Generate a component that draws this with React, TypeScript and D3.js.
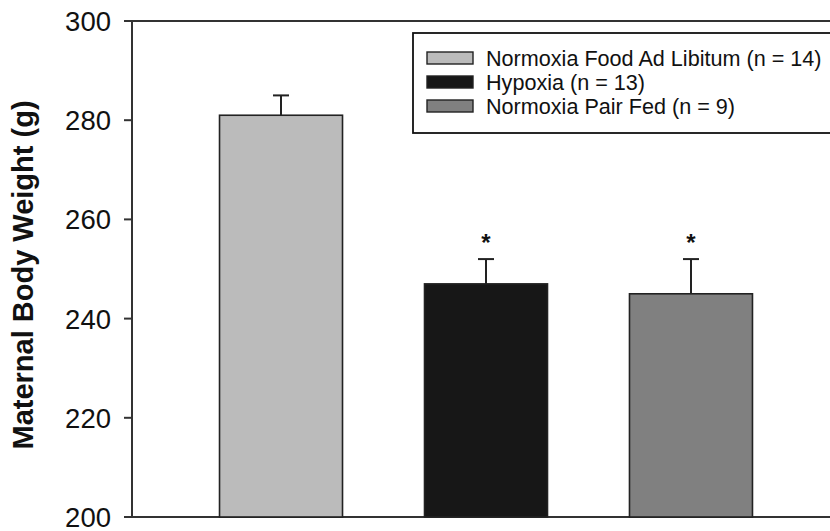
import React from "react";
import * as d3 from "d3";

const categories = ["Normoxia Food Ad Libitum (n = 14)", "Hypoxia (n = 13)", "Normoxia Pair Fed (n = 9)"];
const means = [281, 247, 245];
const errors = [4, 5, 7];
const significant = [false, true, true];
const colors = ["#bbbbbb", "#171717", "#808080"];
const yTicks = [200, 220, 240, 260, 280, 300];
const yTitle = "Maternal Body Weight (g)";

const W = 830;
const H = 531;
const FONT = "'Liberation Sans', Arial, Helvetica, sans-serif";

export default function App() {
  const y = d3.scaleLinear().domain([200, 300]).range([517, 21]);
  const x = d3
    .scaleBand<string>()
    .domain(categories)
    .range([132, 840])
    .paddingInner(0.4)
    .paddingOuter(0.427);
  const axisColor = "#333";
  return (
    <svg
      width={W}
      height={H}
      style={{ position: "absolute", left: 0, top: 0, background: "#fff" }}
      fontFamily={FONT}
    >
      <line x1={124} x2={W + 10} y1={y(300)} y2={y(300)} stroke={axisColor} strokeWidth={2} />
      <line x1={124} x2={W + 10} y1={y(200)} y2={y(200)} stroke={axisColor} strokeWidth={2} />
      <line x1={132} x2={132} y1={y(300)} y2={y(200)} stroke={axisColor} strokeWidth={2} />
      {yTicks.map((t) => (
        <g key={t}>
          <line x1={124} x2={132} y1={y(t)} y2={y(t)} stroke={axisColor} strokeWidth={2} />
          <text
            x={111}
            y={y(t)}
            dy="0.36em"
            textAnchor="end"
            fontSize={27.5}
            fill="#111"
          >
            {t}
          </text>
        </g>
      ))}
      <text
        transform={`translate(33, 275) rotate(-90)`}
        textAnchor="middle"
        fontSize={29}
        fontWeight="bold"
        fill="#111"
      >
        {yTitle}
      </text>
      {categories.map((c, i) => {
        const bx = x(c)!;
        const bw = x.bandwidth();
        const cx = bx + bw / 2;
        return (
          <g key={c}>
            <line
              x1={cx}
              x2={cx}
              y1={y(means[i])}
              y2={y(means[i] + errors[i])}
              stroke="#222"
              strokeWidth={2}
            />
            <line
              x1={cx - 8}
              x2={cx + 8}
              y1={y(means[i] + errors[i])}
              y2={y(means[i] + errors[i])}
              stroke="#222"
              strokeWidth={2}
            />
            <rect
              x={bx}
              y={y(means[i])}
              width={bw}
              height={y(200) - y(means[i])}
              fill={colors[i]}
              stroke="#222"
              strokeWidth={1.6}
            />
            {significant[i] && (
              <text
                x={cx}
                y={y(means[i] + errors[i]) - 8}
                textAnchor="middle"
                fontSize={24}
                fontWeight="bold"
                fill="#111"
              >
                *
              </text>
            )}
          </g>
        );
      })}
      <rect x={413} y={33} width={430} height={100} fill="#fff" stroke="#111" strokeWidth={1.8} />
      {categories.map((c, i) => (
        <g key={"lg" + c}>
          <rect
            x={427}
            y={52 + i * 24}
            width={46}
            height={12}
            fill={colors[i]}
            stroke="#222"
            strokeWidth={1.4}
          />
          <text x={486} y={58 + i * 24} dy="0.36em" fontSize={21.6} fill="#111">
            {c}
          </text>
        </g>
      ))}
    </svg>
  );
}
